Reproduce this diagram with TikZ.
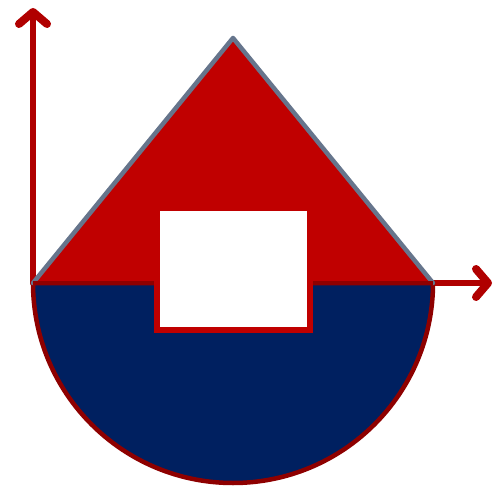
\documentclass[tikz,border=0pt]{standalone}
\usetikzlibrary{arrows.meta}
\definecolor{axisred}{HTML}{B00000}
\definecolor{trired}{HTML}{C00000}
\definecolor{trigray}{HTML}{66758C}
\definecolor{navy}{HTML}{002060}
\definecolor{darkred}{HTML}{8E0000}
\tikzset{
  axis/.style={draw=axisred, line width=6pt, line cap=round,
    -{Straight Barb[length=12pt,width=28pt,line width=8pt,round]}},
}
\begin{document}
\begin{tikzpicture}[x=1pt,y=-1pt]
\useasboundingbox (0,0) rectangle (500,486);
\coordinate (O) at (33,283);
\coordinate (ytip) at (33,8);
\coordinate (xtip) at (492,283);
\coordinate (apex) at (233,38);
\coordinate (R) at (433,283);
\draw[axis] (O) -- (ytip);
\draw[axis] (O) -- (xtip);
\draw[fill=navy, draw=darkred, line width=4.5pt] (O) arc[start angle=180, end angle=360, x radius=200, y radius=-200] -- cycle;
\fill[trired] (O) -- (apex) -- (R) -- cycle;
\draw[trigray, line width=4.5pt, line join=round, line cap=round] (O) -- (apex) -- (R);
\draw[darkred, line width=3.5pt] (O) -- (R);
\draw[fill=white, draw=trired, line width=6pt] (157,208) rectangle (310,330);
\end{tikzpicture}
\end{document}
